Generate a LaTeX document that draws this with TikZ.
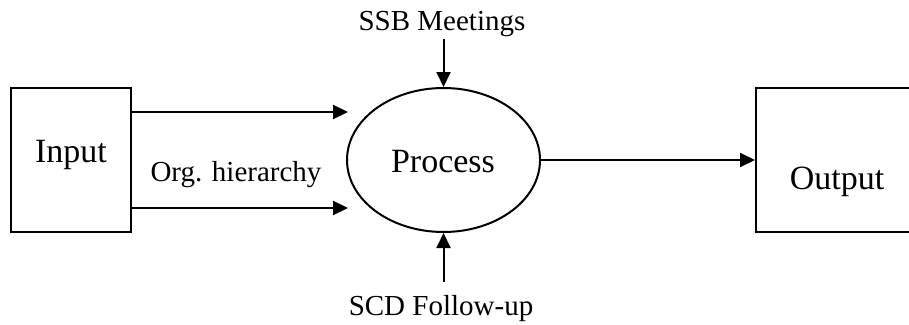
\documentclass[tikz,border=0pt]{standalone}
\usepackage{fontspec}
\setmainfont{Liberation Serif}
\usetikzlibrary{arrows.meta,shapes.geometric}

\tikzset{
  flow/.style={line width=2pt,-{Triangle[length=15pt,width=14pt]}},
  box/.style={draw,line width=2pt,rectangle,inner sep=0pt},
  bigtext/.style={font=\fontsize{34}{40}\selectfont,inner sep=0pt,anchor=base},
  smalltext/.style={font=\fontsize{29}{34}\selectfont,inner sep=0pt,anchor=base},
}

\begin{document}
\begin{tikzpicture}[x=1pt,y=-1pt]
  \useasboundingbox (0,0) rectangle (909,324);

  % input and output boxes
  \node[box,minimum width=120pt,minimum height=144pt] (in) at (71,160) {};
  \node[box,minimum width=160pt,minimum height=144pt,anchor=west] (out) at (755,160) {};
  \node[bigtext] (intext) at (71,162.7) {Input};
  \node[bigtext] (outtext) at (837,189.3) {Output};

  % central process
  \node[draw,ellipse,line width=2pt,minimum width=193pt,minimum height=144pt,inner sep=0pt] (proc) at (443.5,160) {};
  \node[bigtext] (proctext) at (443,172) {Process};

  % side labels
  \node[smalltext] (ssb) at (442,30.7) {SSB Meetings};
  \node[smalltext] (scd) at (441,315) {SCD Follow-up};
  \node[smalltext] (org) at (236,181.7) {Org. hierarchy};

  % connector ends
  \coordinate (t1) at (348,112);
  \coordinate (t2) at (348,208);
  \coordinate (s1) at (443.5,39);
  \coordinate (s2) at (443.5,282);

  \draw[flow] (in.east |- t1) -- (t1);
  \draw[flow] (in.east |- t2) -- (t2);
  \draw[flow] (s1) -- (proc.north);
  \draw[flow] (s2) -- (proc.south);
  \draw[flow] (proc.east) -- (out.west);
\end{tikzpicture}
\end{document}
